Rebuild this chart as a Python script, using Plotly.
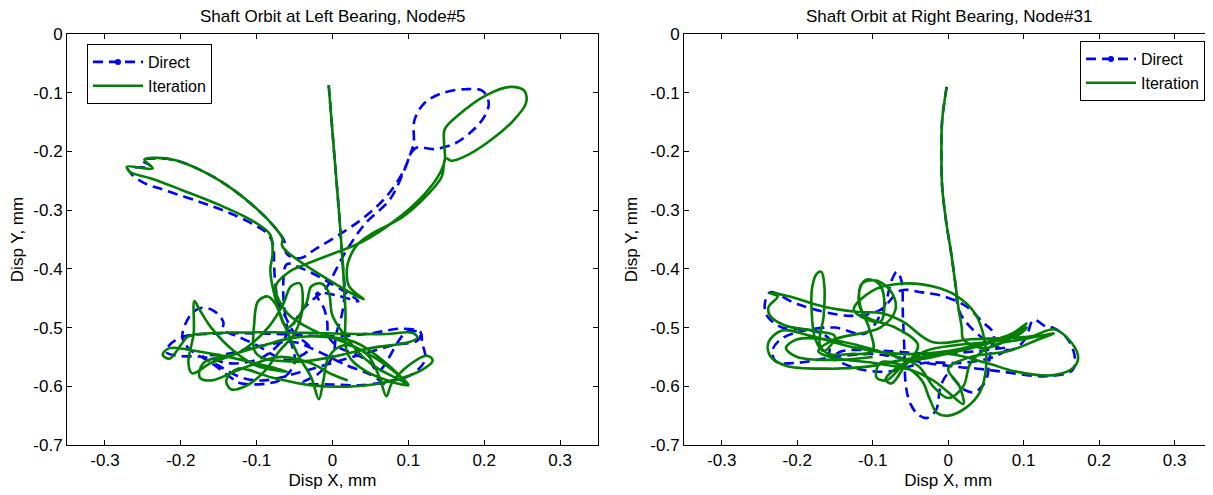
import plotly.graph_objects as go

# ---------------- data (mm) ----------------
# Left bearing, Node#5 : Iteration (green solid)
L_iter_x = [-0.005, 0.002, 0.009, 0.014, 0.017, 0.020,
            0.045, 0.100, 0.068, 0.025, -0.025, -0.060, -0.075,
            -0.057, -0.039, 0.007, 0.039, 0.080, 0.116, 0.139, 0.148, 0.147, 0.148, 0.166, 0.203, 0.235, 0.253, 0.255, 0.235, 0.203, 0.175, 0.157, 0.149,
            0.144, 0.125, 0.093, 0.052, 0.034, 0.025, 0.019, 0.022, 0.041,
            -0.066, -0.066, -0.075, -0.098, -0.130, -0.166, -0.207, -0.235, -0.248, -0.237, -0.271, -0.267, -0.239, -0.198, -0.144, -0.103, -0.082, -0.079, -0.082, -0.077, -0.066, -0.055,
            -0.045, -0.028, -0.018, -0.012, -0.005, 0.015, 0.045, 0.062, 0.071, 0.078, 0.095, 0.125, 0.132, 0.118, 0.080, 0.030, -0.030, -0.080, -0.125, -0.140, -0.134, -0.115, -0.090, -0.070, -0.050, -0.040, -0.043, -0.055, -0.065, -0.085, -0.120, -0.160, -0.185, -0.190, -0.183, -0.182, -0.175, -0.160, -0.130, -0.100, -0.060, -0.120, -0.180, -0.215, -0.224, -0.215, -0.200, -0.190, -0.150, -0.080, 0.000, 0.070, 0.105, 0.112, 0.100, 0.050, 0.000, -0.050, -0.100, -0.103, -0.098, -0.085, -0.075, -0.060, -0.035, -0.028, -0.015, -0.005, 0.000, 0.020, 0.040, 0.060, 0.090, 0.100,
            0.070, 0.030, -0.020, -0.055, -0.090, -0.130, -0.170, -0.175, -0.160, -0.120, -0.070, -0.030, 0.000, 0.020]
L_iter_y = [-0.087, -0.200, -0.310, -0.400, -0.470, -0.545,
            -0.575, -0.598, -0.562, -0.530, -0.505, -0.475, -0.430,
            -0.405, -0.394, -0.371, -0.354, -0.320, -0.280, -0.243, -0.215, -0.185, -0.162, -0.138, -0.104, -0.090, -0.097, -0.118, -0.152, -0.186, -0.208, -0.216, -0.212,
            -0.243, -0.274, -0.311, -0.340, -0.357, -0.374, -0.400, -0.430, -0.452,
            -0.362, -0.348, -0.331, -0.300, -0.266, -0.237, -0.215, -0.211, -0.214, -0.229, -0.226, -0.235, -0.246, -0.266, -0.294, -0.320, -0.342, -0.374, -0.402, -0.442, -0.487, -0.520,
            -0.548, -0.585, -0.622, -0.590, -0.550, -0.530, -0.545, -0.585, -0.617, -0.595, -0.570, -0.548, -0.556, -0.572, -0.590, -0.600, -0.598, -0.585, -0.570, -0.590, -0.605, -0.600, -0.575, -0.540, -0.510, -0.470, -0.425, -0.430, -0.460, -0.500, -0.540, -0.560, -0.578, -0.560, -0.510, -0.455, -0.470, -0.500, -0.540, -0.565, -0.575, -0.555, -0.540, -0.535, -0.546, -0.553, -0.530, -0.515, -0.509, -0.508, -0.510, -0.511, -0.509, -0.517, -0.525, -0.535, -0.550, -0.558, -0.545, -0.490, -0.455, -0.447, -0.460, -0.500, -0.460, -0.430, -0.425, -0.440, -0.480, -0.520, -0.550, -0.570, -0.590, -0.598,
            -0.560, -0.525, -0.515, -0.518, -0.530, -0.545, -0.560, -0.585, -0.590, -0.570, -0.550, -0.560, -0.580, -0.590]

# Left bearing, Node#5 : Direct (blue dashed)
L_dir_x = [-0.005, 0.002, 0.009, 0.014, 0.016, 0.012, 0.005,
           0.000, -0.020, -0.039, 0.000, 0.039, 0.071, 0.103, 0.122, 0.118, 0.116, 0.090, 0.050, 0.000, -0.050, -0.100, -0.150, -0.198, -0.215, -0.219, -0.205, -0.171, -0.134, -0.100, -0.084, -0.062, -0.040, -0.007,
           0.002, 0.016, 0.043, 0.075, 0.093, 0.103, 0.107, 0.108, 0.121, 0.144, 0.175, 0.198, 0.206, 0.200, 0.185, 0.162, 0.134, 0.112, 0.105, 0.093, 0.071, 0.043, 0.011, -0.021, -0.043, -0.060,
           -0.064, -0.075, -0.098, -0.130, -0.166, -0.207, -0.235, -0.251, -0.239, -0.269, -0.264, -0.248, -0.221, -0.175, -0.139, -0.103, -0.084, -0.078, -0.077, -0.075, -0.071, -0.062,
           -0.050, -0.030, -0.060, -0.100, -0.125, -0.144, -0.144, -0.157, -0.175, -0.189, -0.198, -0.190, -0.160, -0.132, -0.121, -0.084, -0.066, -0.050, -0.060, -0.065, -0.060, -0.039, -0.002, 0.034, 0.005, -0.021, -0.011, -0.007, -0.005, 0.010, 0.030, 0.050, 0.060, 0.098, 0.116, 0.112, 0.080, 0.040, 0.000, -0.040, -0.090, -0.120, -0.150, -0.171,
           -0.140, -0.090, -0.050, -0.020, 0.020, 0.050, 0.070]
L_dir_y = [-0.087, -0.200, -0.310, -0.400, -0.440, -0.480, -0.510,
           -0.550, -0.580, -0.594, -0.597, -0.598, -0.592, -0.581, -0.555, -0.525, -0.508, -0.502, -0.510, -0.515, -0.512, -0.510, -0.510, -0.516, -0.530, -0.542, -0.548, -0.550, -0.561, -0.555, -0.544, -0.516, -0.470, -0.430,
           -0.408, -0.374, -0.323, -0.283, -0.237, -0.203, -0.186, -0.147, -0.118, -0.101, -0.094, -0.097, -0.118, -0.141, -0.164, -0.186, -0.196, -0.193, -0.200, -0.235, -0.277, -0.311, -0.340, -0.365, -0.382, -0.375,
           -0.351, -0.331, -0.300, -0.266, -0.237, -0.215, -0.212, -0.215, -0.226, -0.229, -0.240, -0.254, -0.266, -0.286, -0.303, -0.325, -0.342, -0.362, -0.396, -0.430, -0.459, -0.482,
           -0.510, -0.535, -0.555, -0.530, -0.515, -0.504, -0.490, -0.471, -0.467, -0.482, -0.516, -0.535, -0.560, -0.587, -0.595, -0.595, -0.587, -0.560, -0.500, -0.430, -0.392, -0.400, -0.425, -0.455, -0.445, -0.442, -0.468, -0.490, -0.516, -0.535, -0.545, -0.560, -0.575, -0.507, -0.510, -0.522, -0.530, -0.545, -0.560, -0.575, -0.590, -0.585, -0.565, -0.550,
           -0.545, -0.530, -0.525, -0.540, -0.565, -0.580, -0.598]

# Right bearing, Node#31 : Iteration (green solid)
R_iter_x = [-0.002, -0.008, -0.009, -0.008, -0.003, 0.004, 0.010, 0.014, 0.018, 0.020,
            0.045, 0.080, 0.104, 0.085, 0.050, 0.000, -0.060, -0.120, -0.180, -0.220, -0.238, -0.236, -0.215, -0.160, -0.110, -0.060, 0.000, 0.050, 0.090, 0.140, 0.167, 0.172, 0.158, 0.140, 0.110, 0.070, 0.030, -0.020,
            -0.060, -0.086, -0.122, -0.166, -0.210, -0.236, -0.226, -0.238, -0.236, -0.215, -0.180, -0.150,
            -0.165, -0.176, -0.181, -0.180, -0.174, -0.168, -0.164, -0.165, -0.170, -0.158, -0.130, -0.100,
            -0.105, -0.118, -0.116, -0.108, -0.092, -0.085, -0.090, -0.125,
            -0.100, -0.060, -0.020, 0.010, 0.035, 0.048, 0.050, 0.042, 0.025, 0.000, -0.015, -0.025, -0.035, -0.060, -0.090, -0.095, -0.082, -0.060, -0.030, 0.010, 0.050, 0.090, 0.104,
            0.070, 0.030, -0.020, -0.060, -0.083, -0.075, -0.060, -0.040, -0.070, -0.110, -0.118, -0.114, -0.095, -0.075, -0.070, -0.090, -0.150, -0.172, -0.150, -0.100, -0.050, -0.020, 0.000, 0.020, 0.015, 0.000, 0.030, 0.080, 0.120, 0.140,
            0.100, 0.060, 0.030, 0.020, 0.000, -0.020, -0.040, -0.080, -0.120, -0.160, -0.200, -0.215, -0.200, -0.150, -0.100]
R_iter_y = [-0.090, -0.147, -0.203, -0.260, -0.317, -0.374, -0.430, -0.470, -0.500, -0.520,
            -0.535, -0.520, -0.493, -0.510, -0.525, -0.540, -0.545, -0.535, -0.515, -0.505, -0.525, -0.548, -0.565, -0.570, -0.567, -0.555, -0.545, -0.560, -0.575, -0.581, -0.567, -0.548, -0.518, -0.503, -0.515, -0.518, -0.520, -0.525,
            -0.490, -0.476, -0.473, -0.464, -0.447, -0.441, -0.447, -0.465, -0.480, -0.497, -0.505, -0.515,
            -0.540, -0.520, -0.470, -0.430, -0.408, -0.405, -0.430, -0.480, -0.530, -0.545, -0.545, -0.540,
            -0.500, -0.460, -0.430, -0.418, -0.425, -0.450, -0.490, -0.470,
            -0.437, -0.425, -0.430, -0.445, -0.475, -0.520, -0.570, -0.610, -0.635, -0.650, -0.645, -0.620, -0.590, -0.565, -0.560, -0.585, -0.590, -0.565, -0.540, -0.530, -0.525, -0.515, -0.500,
            -0.520, -0.535, -0.550, -0.562, -0.589, -0.595, -0.570, -0.530, -0.500, -0.480, -0.450, -0.425, -0.420, -0.440, -0.470, -0.500, -0.520, -0.540, -0.552, -0.560, -0.572, -0.590, -0.610, -0.630, -0.600, -0.570, -0.550, -0.540, -0.520, -0.510,
            -0.520, -0.530, -0.560, -0.600, -0.620, -0.600, -0.565, -0.545, -0.530, -0.520, -0.520, -0.535, -0.550, -0.555, -0.550]

# Right bearing, Node#31 : Direct (blue dashed)
R_dir_x = [-0.002, -0.008, -0.009, -0.008, -0.003, 0.004, 0.010, 0.014,
           0.030, 0.060, 0.084, 0.102, 0.113, 0.129, 0.140, 0.156, 0.167, 0.165, 0.129, 0.071, 0.039, 0.013, -0.030, -0.070, -0.100, -0.150, -0.200, -0.228, -0.233, -0.222, -0.190, -0.150, -0.110,
           -0.085, -0.075, -0.068, -0.062, -0.060, -0.058, -0.056, -0.050, -0.040, -0.028, -0.016, -0.010, 0.000, 0.020, 0.035, 0.050, 0.055, 0.060, 0.045, 0.025, -0.005, -0.035, -0.063,
           -0.090, -0.130, -0.200, -0.236, -0.243, -0.240, -0.220, -0.180, -0.157, -0.157, -0.140, -0.080, -0.020, 0.040, 0.080,
           0.060, 0.020, -0.030, -0.080, -0.120, -0.150]
R_dir_y = [-0.090, -0.147, -0.203, -0.260, -0.317, -0.374, -0.430, -0.470,
           -0.500, -0.530, -0.538, -0.520, -0.487, -0.498, -0.501, -0.516, -0.545, -0.572, -0.583, -0.575, -0.570, -0.567, -0.560, -0.550, -0.545, -0.550, -0.560, -0.558, -0.540, -0.520, -0.505, -0.500, -0.510,
           -0.465, -0.420, -0.405, -0.420, -0.480, -0.540, -0.600, -0.630, -0.648, -0.654, -0.640, -0.600, -0.580, -0.605, -0.610, -0.590, -0.550, -0.510, -0.490, -0.465, -0.447, -0.440, -0.437,
           -0.470, -0.480, -0.460, -0.440, -0.460, -0.480, -0.500, -0.505, -0.520, -0.550, -0.540, -0.540, -0.545, -0.540, -0.535,
           -0.550, -0.560, -0.560, -0.575, -0.570, -0.555]

x_ticks = [-0.3, -0.2, -0.1, 0, 0.1, 0.2, 0.3]
x_tick_text = ["-0.3", "-0.2", "-0.1", "0", "0.1", "0.2", "0.3"]
y_ticks = [0, -0.1, -0.2, -0.3, -0.4, -0.5, -0.6, -0.7]
y_tick_text = ["0", "-0.1", "-0.2", "-0.3", "-0.4", "-0.5", "-0.6", "-0.7"]
titles = ["Shaft Orbit at Left Bearing, Node#5", "Shaft Orbit at Right Bearing, Node#31"]
series_names = ["Direct", "Iteration"]

BLUE = "#0000FF"
GREEN = "#007F00"
FONT = "Liberation Sans, Arial, Helvetica, sans-serif"
FS = 17

fig = go.Figure()

panels = [
    ("x", "y", "legend", L_dir_x, L_dir_y, L_iter_x, L_iter_y),
    ("x2", "y2", "legend2", R_dir_x, R_dir_y, R_iter_x, R_iter_y),
]
for xa, ya, lg, dx, dy, ix, iy in panels:
    fig.add_trace(go.Scatter(x=dx, y=dy, xaxis=xa, yaxis=ya, mode="lines",
                             line=dict(color=BLUE, width=2.6, dash="10px,6px", shape="spline", smoothing=1.0),
                             showlegend=False, hoverinfo="skip"))
    fig.add_trace(go.Scatter(x=ix, y=iy, xaxis=xa, yaxis=ya, mode="lines",
                             line=dict(color=GREEN, width=2.6, shape="spline", smoothing=1.0),
                             showlegend=False, hoverinfo="skip"))
    # legend entries
    fig.add_trace(go.Scatter(x=[None], y=[None], xaxis=xa, yaxis=ya, mode="lines+markers",
                             name=series_names[0], legend=lg,
                             line=dict(color=BLUE, width=2.6, dash="10px,6px"),
                             marker=dict(color=BLUE, size=6, symbol="circle")))
    fig.add_trace(go.Scatter(x=[None], y=[None], xaxis=xa, yaxis=ya, mode="lines",
                             name=series_names[1], legend=lg,
                             line=dict(color=GREEN, width=2.6)))

axis_common = dict(range=[-0.35, 0.35], tickvals=x_ticks, ticktext=x_tick_text, automargin=False,
                   showline=True, linecolor="black", linewidth=1, mirror="ticks",
                   ticks="inside", ticklen=5, tickcolor="black", showgrid=False, zeroline=False,
                   tickfont=dict(family=FONT, size=FS, color="black"),
                   title=dict(text="Disp X, mm", font=dict(family=FONT, size=FS, color="black"), standoff=4))
yaxis_common = dict(range=[-0.7, 0], tickvals=y_ticks, ticktext=y_tick_text, automargin=False,
                    showline=True, linecolor="black", linewidth=1, mirror="ticks",
                    ticks="inside", ticklen=5, tickcolor="black", showgrid=False, zeroline=False,
                    tickfont=dict(family=FONT, size=FS, color="black"),
                    title=dict(text="Disp Y, mm", font=dict(family=FONT, size=FS, color="black"), standoff=8))

# The page body adds an 8px offset; the figure is sized/positioned to compensate.
OFF = 8
W, H = 1213 - OFF, 495 - OFF
TOP, BOT = 34 - OFF, 445 - OFF
PH = BOT - TOP
L1, R1 = 67 - OFF, 598 - OFF
L2 = 684 - OFF
fig.update_layout(
    width=W, height=H,
    margin=dict(l=0, r=0, t=TOP, b=H - BOT, pad=0, autoexpand=False),
    paper_bgcolor="white", plot_bgcolor="white",
    xaxis=dict(domain=[L1 / W, R1 / W], anchor="y", **axis_common),
    yaxis=dict(domain=[0, 1], anchor="x", **yaxis_common),
    xaxis2=dict(domain=[L2 / W, 0.9995], anchor="y2", **axis_common),
    yaxis2=dict(domain=[0, 1], anchor="x2", **yaxis_common),
    legend=dict(x=(87 - OFF) / W, y=(BOT - (44 - OFF)) / PH, xanchor="left", yanchor="top",
                bgcolor="white", bordercolor="black", borderwidth=1,
                font=dict(family=FONT, size=16, color="black"), itemwidth=50, tracegroupgap=0),
    legend2=dict(x=(1205 - OFF) / W, y=(BOT - (41 - OFF)) / PH, xanchor="right", yanchor="top",
                 bgcolor="white", bordercolor="black", borderwidth=1,
                 font=dict(family=FONT, size=16, color="black"), itemwidth=50, tracegroupgap=0),
    showlegend=True,
)

centers = [(L1 + R1) / 2 / W, (L2 + W) / 2 / W]
for cx, t in zip(centers, titles):
    fig.add_annotation(text=t, x=cx, y=1 + (TOP - (17 - OFF)) / PH, xref="paper", yref="paper",
                       xanchor="center", yanchor="middle", showarrow=False,
                       font=dict(family=FONT, size=FS, color="black"))

fig.write_html("out.html")
